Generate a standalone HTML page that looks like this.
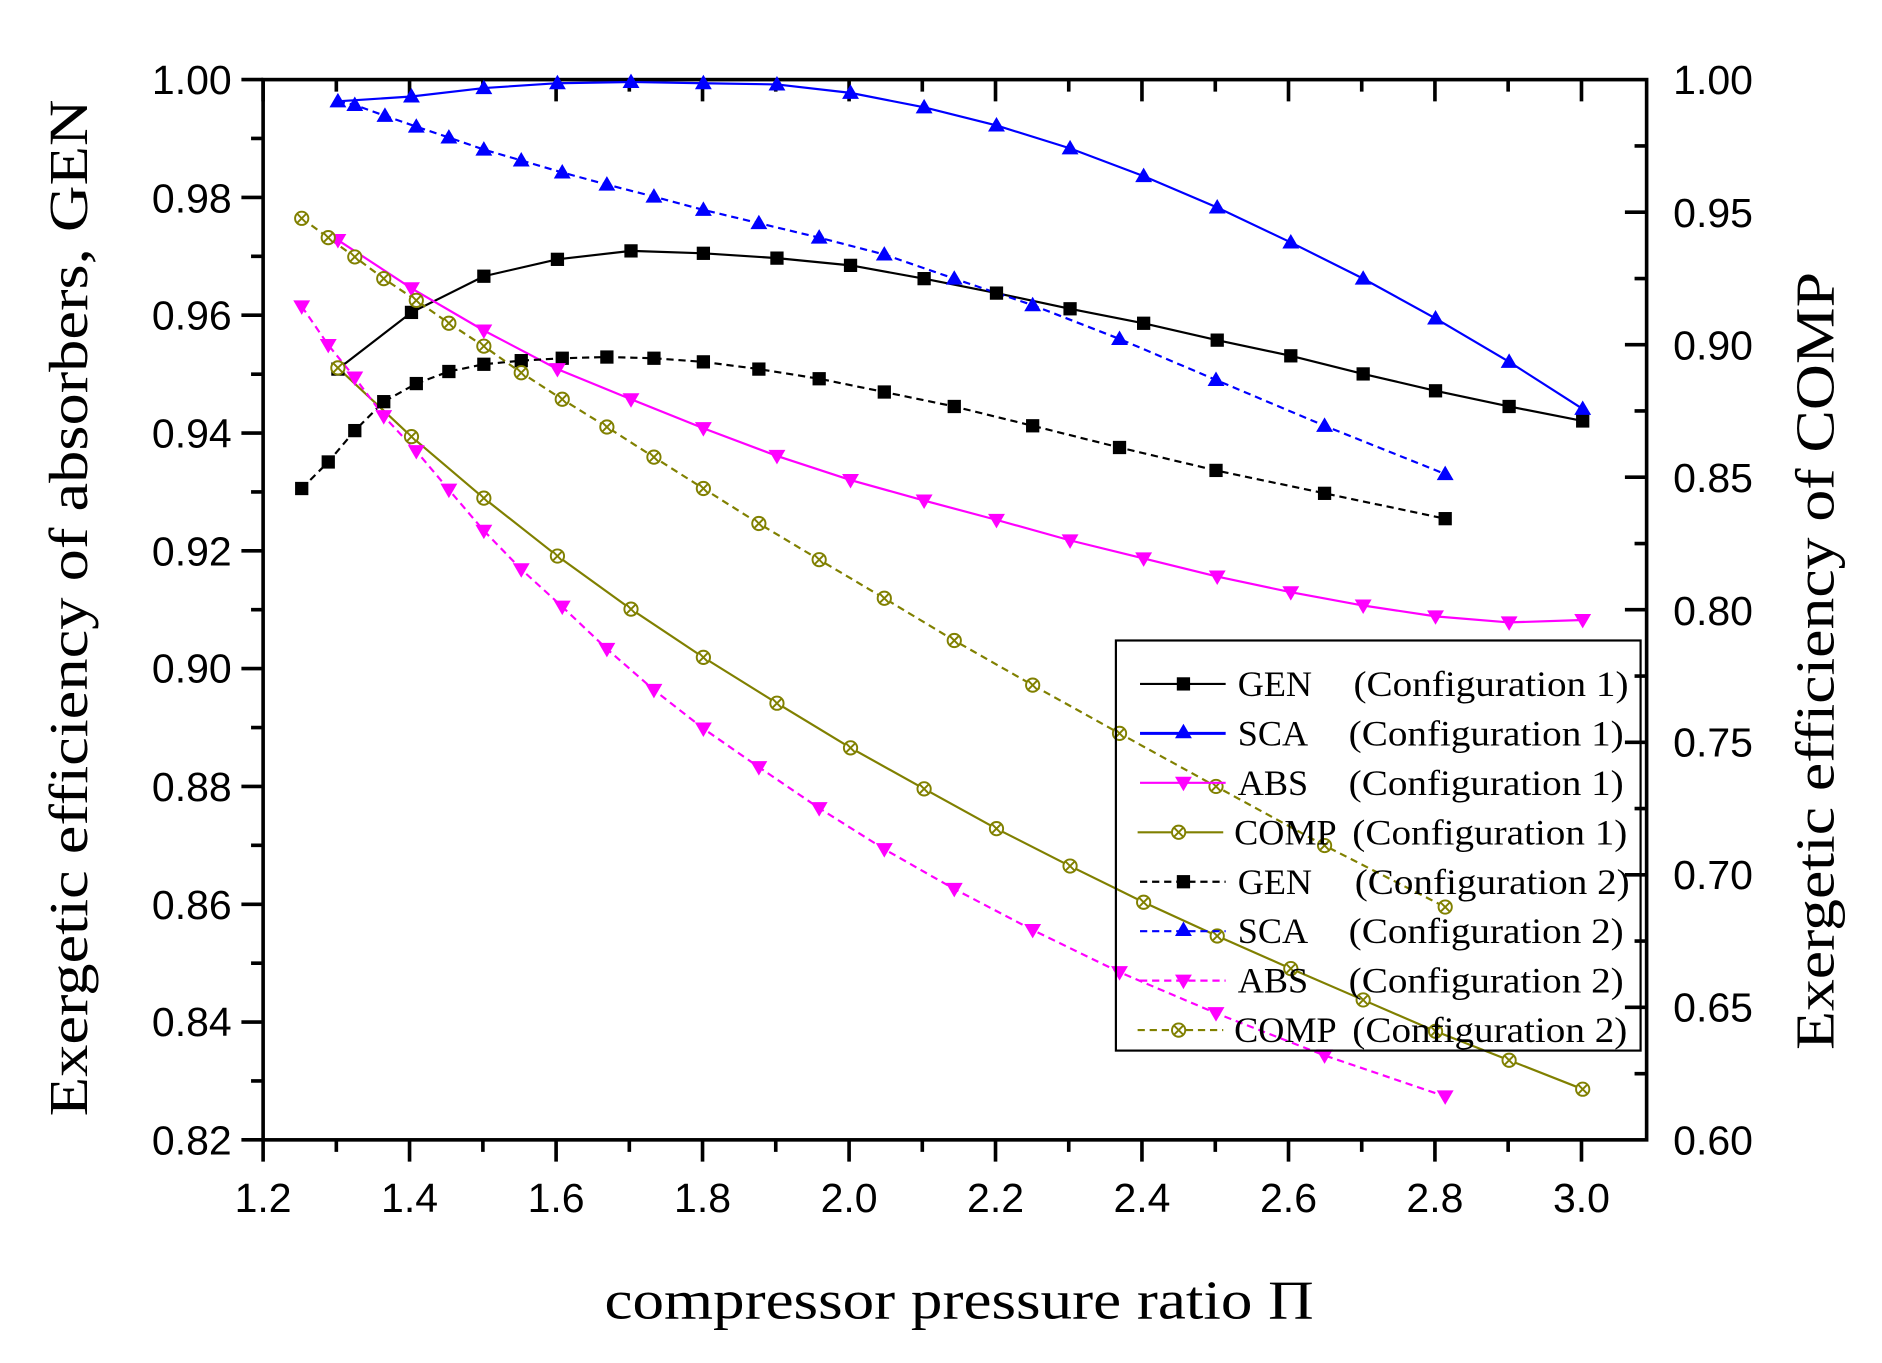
<!DOCTYPE html>
<html><head><meta charset="utf-8"><style>html,body{margin:0;padding:0;background:#fff}svg{display:block}</style></head>
<body>
<svg width="1882" height="1363" viewBox="0 0 1560 1130" xmlns="http://www.w3.org/2000/svg">
<defs>
<rect id="sq" x="-5.5" y="-5.5" width="11" height="11" fill="#000"/>
<path id="tu" d="M0,-7 L7,5 L-7,5 Z" fill="#0000ff"/>
<path id="td" d="M0,7 L7,-5 L-7,-5 Z" fill="#ff00ff"/>
<g id="cx" fill="none" stroke="#808000" stroke-width="1.6"><circle r="5.5" fill="#fff"/><path d="M-4,-4 L4,4 M-4,4 L4,-4"/></g>
</defs>
<g stroke="#000" stroke-width="3" fill="none">
<rect x="218" y="66" width="1147" height="879"/>
<!-- bottom ticks -->
<path d="M218,945v18 M339.4,945v18 M460.9,945v18 M582.3,945v18 M703.8,945v18 M825.2,945v18 M946.6,945v18 M1068.1,945v18 M1189.5,945v18 M1311,945v18
M278.7,945v10 M400.2,945v10 M521.6,945v10 M643,945v10 M764.5,945v10 M885.9,945v10 M1007.4,945v10 M1128.8,945v10 M1250.2,945v10
M218,66v18 M339.4,66v18 M460.9,66v18 M582.3,66v18 M703.8,66v18 M825.2,66v18 M946.6,66v18 M1068.1,66v18 M1189.5,66v18 M1311,66v18
M278.7,66v10 M400.2,66v10 M521.6,66v10 M643,66v10 M764.5,66v10 M885.9,66v10 M1007.4,66v10 M1128.8,66v10 M1250.2,66v10"/>
<!-- left ticks -->
<path d="M218,66h-18 M218,163.7h-18 M218,261.3h-18 M218,359h-18 M218,456.7h-18 M218,554.3h-18 M218,652h-18 M218,749.7h-18 M218,847.3h-18 M218,945h-18
M218,114.8h-10 M218,212.5h-10 M218,310.2h-10 M218,407.8h-10 M218,505.5h-10 M218,603.2h-10 M218,700.8h-10 M218,798.5h-10 M218,896.2h-10"/>
<!-- right ticks -->
<path d="M1365,175.9h-18 M1365,285.8h-18 M1365,395.6h-18 M1365,505.5h-18 M1365,615.4h-18 M1365,725.3h-18 M1365,835.1h-18
M1365,121h-10 M1365,230.9h-10 M1365,340.7h-10 M1365,450.6h-10 M1365,560.5h-10 M1365,670.3h-10 M1365,780.2h-10 M1365,890.1h-10"/>
</g>
<g font-family="Liberation Sans, sans-serif" font-size="34" fill="#000">
<g text-anchor="end">
<text x="192" y="78">1.00</text><text x="192" y="176">0.98</text><text x="192" y="273">0.96</text><text x="192" y="371">0.94</text><text x="192" y="469">0.92</text><text x="192" y="566">0.90</text><text x="192" y="664">0.88</text><text x="192" y="762">0.86</text><text x="192" y="859">0.84</text><text x="192" y="957">0.82</text>
</g>
<g text-anchor="middle">
<text x="218" y="1005">1.2</text><text x="339.4" y="1005">1.4</text><text x="460.9" y="1005">1.6</text><text x="582.3" y="1005">1.8</text><text x="703.8" y="1005">2.0</text><text x="825.2" y="1005">2.2</text><text x="946.6" y="1005">2.4</text><text x="1068.1" y="1005">2.6</text><text x="1189.5" y="1005">2.8</text><text x="1311" y="1005">3.0</text>
</g>
<g>
<text x="1387" y="78">1.00</text><text x="1387" y="188">0.95</text><text x="1387" y="298">0.90</text><text x="1387" y="408">0.85</text><text x="1387" y="518">0.80</text><text x="1387" y="627">0.75</text><text x="1387" y="737">0.70</text><text x="1387" y="847">0.65</text><text x="1387" y="957">0.60</text>
</g>
</g>
<g font-family="Liberation Serif, serif" fill="#000">
<text x="795" y="1093" font-size="46" text-anchor="middle" textLength="588" lengthAdjust="spacingAndGlyphs">compressor pressure ratio Π</text>
<text transform="translate(72,504) rotate(-90)" font-size="46" text-anchor="middle" textLength="843" lengthAdjust="spacingAndGlyphs">Exergetic efficiency of absorbers, GEN</text>
<text transform="translate(1520,548) rotate(-90)" font-size="46" text-anchor="middle" textLength="645" lengthAdjust="spacingAndGlyphs">Exergetic efficiency of COMP</text>
</g>

<!-- series -->
<g fill="none" stroke-width="1.8">
<polyline stroke="#000" points="280,306 341,259 401,229 462,215 523,208 583,210 644,214 705,220 766,231 826,243 887,256 948,268 1009,282 1070,295 1130,310 1190,324 1251,337 1312,349"/>
<polyline stroke="#0000ff" points="280,84 341,80 401,73 462,69 523,68 583,69 644,70 705,77 766,89 826,104 887,123 948,146 1009,172 1070,201 1130,231 1190,264 1251,300 1312,339"/>
<polyline stroke="#ff00ff" points="280,199 341,239 401,274 462,306 523,331 583,355 644,378 705,398 766,415 826,431 887,448 948,463 1009,478 1070,491 1130,502 1190,511 1251,516 1312,514"/>
<polyline stroke="#808000" points="280,305 341,362 401,413 462,461 523,505 583,545 644,583 705,620 766,654 826,687 887,718 948,748 1009,776 1070,803 1130,829 1190,855 1251,879 1312,903"/>
<g stroke-dasharray="6 4">
<polyline stroke="#000" points="250,405 272,383 294,357 318,333 345,318 372,308 401,302 432,299 466,297 503,296 542,297 583,300 629,306 679,314 733,325 791,337 856,353 928,371 1008,390 1098,409 1198,430"/>
<polyline stroke="#0000ff" points="280,84 294,87 319,96 345,105 372,114 401,124 432,133 466,143 503,153 542,163 583,174 629,185 679,197 733,211 791,231 856,253 928,281 1008,315 1098,353 1198,393"/>
<polyline stroke="#ff00ff" points="250,254 272,286 294,313 318,345 345,374 372,406 401,440 432,472 466,503 503,538 542,572 583,604 629,636 679,670 733,704 791,737 856,771 928,806 1008,840 1098,875 1198,909"/>
<polyline stroke="#808000" points="250,181 272,197 294,213 318,231 345,249 372,268 401,287 432,309 466,331 503,354 542,379 583,405 629,434 679,464 733,496 791,531 856,568 928,608 1008,652 1098,701 1198,752"/>
</g>
</g>
<!-- markers -->
<g>
<use href="#sq" x="280" y="306"/><use href="#sq" x="341" y="259"/><use href="#sq" x="401" y="229"/><use href="#sq" x="462" y="215"/><use href="#sq" x="523" y="208"/><use href="#sq" x="583" y="210"/><use href="#sq" x="644" y="214"/><use href="#sq" x="705" y="220"/><use href="#sq" x="766" y="231"/><use href="#sq" x="826" y="243"/><use href="#sq" x="887" y="256"/><use href="#sq" x="948" y="268"/><use href="#sq" x="1009" y="282"/><use href="#sq" x="1070" y="295"/><use href="#sq" x="1130" y="310"/><use href="#sq" x="1190" y="324"/><use href="#sq" x="1251" y="337"/><use href="#sq" x="1312" y="349"/>
<use href="#sq" x="250" y="405"/><use href="#sq" x="272" y="383"/><use href="#sq" x="294" y="357"/><use href="#sq" x="318" y="333"/><use href="#sq" x="345" y="318"/><use href="#sq" x="372" y="308"/><use href="#sq" x="401" y="302"/><use href="#sq" x="432" y="299"/><use href="#sq" x="466" y="297"/><use href="#sq" x="503" y="296"/><use href="#sq" x="542" y="297"/><use href="#sq" x="583" y="300"/><use href="#sq" x="629" y="306"/><use href="#sq" x="679" y="314"/><use href="#sq" x="733" y="325"/><use href="#sq" x="791" y="337"/><use href="#sq" x="856" y="353"/><use href="#sq" x="928" y="371"/><use href="#sq" x="1008" y="390"/><use href="#sq" x="1098" y="409"/><use href="#sq" x="1198" y="430"/>
<use href="#tu" x="280" y="84"/><use href="#tu" x="341" y="80"/><use href="#tu" x="401" y="73"/><use href="#tu" x="462" y="69"/><use href="#tu" x="523" y="68"/><use href="#tu" x="583" y="69"/><use href="#tu" x="644" y="70"/><use href="#tu" x="705" y="77"/><use href="#tu" x="766" y="89"/><use href="#tu" x="826" y="104"/><use href="#tu" x="887" y="123"/><use href="#tu" x="948" y="146"/><use href="#tu" x="1009" y="172"/><use href="#tu" x="1070" y="201"/><use href="#tu" x="1130" y="231"/><use href="#tu" x="1190" y="264"/><use href="#tu" x="1251" y="300"/><use href="#tu" x="1312" y="339"/>
<use href="#tu" x="294" y="87"/><use href="#tu" x="319" y="96"/><use href="#tu" x="345" y="105"/><use href="#tu" x="372" y="114"/><use href="#tu" x="401" y="124"/><use href="#tu" x="432" y="133"/><use href="#tu" x="466" y="143"/><use href="#tu" x="503" y="153"/><use href="#tu" x="542" y="163"/><use href="#tu" x="583" y="174"/><use href="#tu" x="629" y="185"/><use href="#tu" x="679" y="197"/><use href="#tu" x="733" y="211"/><use href="#tu" x="791" y="231"/><use href="#tu" x="856" y="253"/><use href="#tu" x="928" y="281"/><use href="#tu" x="1008" y="315"/><use href="#tu" x="1098" y="353"/><use href="#tu" x="1198" y="393"/>
<use href="#td" x="280" y="199"/><use href="#td" x="341" y="239"/><use href="#td" x="401" y="274"/><use href="#td" x="462" y="306"/><use href="#td" x="523" y="331"/><use href="#td" x="583" y="355"/><use href="#td" x="644" y="378"/><use href="#td" x="705" y="398"/><use href="#td" x="766" y="415"/><use href="#td" x="826" y="431"/><use href="#td" x="887" y="448"/><use href="#td" x="948" y="463"/><use href="#td" x="1009" y="478"/><use href="#td" x="1070" y="491"/><use href="#td" x="1130" y="502"/><use href="#td" x="1190" y="511"/><use href="#td" x="1251" y="516"/><use href="#td" x="1312" y="514"/>
<use href="#td" x="250" y="254"/><use href="#td" x="272" y="286"/><use href="#td" x="294" y="313"/><use href="#td" x="318" y="345"/><use href="#td" x="345" y="374"/><use href="#td" x="372" y="406"/><use href="#td" x="401" y="440"/><use href="#td" x="432" y="472"/><use href="#td" x="466" y="503"/><use href="#td" x="503" y="538"/><use href="#td" x="542" y="572"/><use href="#td" x="583" y="604"/><use href="#td" x="629" y="636"/><use href="#td" x="679" y="670"/><use href="#td" x="733" y="704"/><use href="#td" x="791" y="737"/><use href="#td" x="856" y="771"/><use href="#td" x="928" y="806"/><use href="#td" x="1008" y="840"/><use href="#td" x="1098" y="875"/><use href="#td" x="1198" y="909"/>
<use href="#cx" x="280" y="305"/><use href="#cx" x="341" y="362"/><use href="#cx" x="401" y="413"/><use href="#cx" x="462" y="461"/><use href="#cx" x="523" y="505"/><use href="#cx" x="583" y="545"/><use href="#cx" x="644" y="583"/><use href="#cx" x="705" y="620"/><use href="#cx" x="766" y="654"/><use href="#cx" x="826" y="687"/><use href="#cx" x="887" y="718"/><use href="#cx" x="948" y="748"/><use href="#cx" x="1009" y="776"/><use href="#cx" x="1070" y="803"/><use href="#cx" x="1130" y="829"/><use href="#cx" x="1190" y="855"/><use href="#cx" x="1251" y="879"/><use href="#cx" x="1312" y="903"/>
<use href="#cx" x="250" y="181"/><use href="#cx" x="272" y="197"/><use href="#cx" x="294" y="213"/><use href="#cx" x="318" y="231"/><use href="#cx" x="345" y="249"/><use href="#cx" x="372" y="268"/><use href="#cx" x="401" y="287"/><use href="#cx" x="432" y="309"/><use href="#cx" x="466" y="331"/><use href="#cx" x="503" y="354"/><use href="#cx" x="542" y="379"/><use href="#cx" x="583" y="405"/><use href="#cx" x="629" y="434"/><use href="#cx" x="679" y="464"/><use href="#cx" x="733" y="496"/><use href="#cx" x="791" y="531"/><use href="#cx" x="856" y="568"/><use href="#cx" x="928" y="608"/><use href="#cx" x="1008" y="652"/><use href="#cx" x="1098" y="701"/><use href="#cx" x="1198" y="752"/>
</g>

<!-- legend -->
<rect x="925" y="531" width="435" height="340" fill="none" stroke="#000" stroke-width="1.8"/>
<g fill="none" stroke-width="1.8">
<path d="M945,567h71" stroke="#000"/>
<path d="M945,608h71" stroke="#0000ff" stroke-width="2.4"/>
<path d="M945,649h71" stroke="#ff00ff"/>
<path d="M943,690h71" stroke="#808000"/>
<g stroke-dasharray="6 4">
<path d="M945,731h71" stroke="#000"/>
<path d="M945,772h71" stroke="#0000ff"/>
<path d="M945,813h71" stroke="#ff00ff"/>
<path d="M943,854h71" stroke="#808000"/>
</g>
</g>
<use href="#sq" x="981" y="567"/><use href="#tu" x="981" y="607"/><use href="#td" x="981" y="649"/><use href="#cx" x="977" y="690"/>
<use href="#sq" x="981" y="731"/><use href="#tu" x="981" y="771"/><use href="#td" x="981" y="813"/><use href="#cx" x="977" y="854"/>
<g font-family="Liberation Serif, serif" font-size="30" fill="#000">
<text x="1026" y="577">GEN</text><text x="1122" y="577" textLength="228" lengthAdjust="spacingAndGlyphs">(Configuration 1)</text>
<text x="1026" y="618">SCA</text><text x="1118" y="618" textLength="228" lengthAdjust="spacingAndGlyphs">(Configuration 1)</text>
<text x="1026" y="659">ABS</text><text x="1118" y="659" textLength="228" lengthAdjust="spacingAndGlyphs">(Configuration 1)</text>
<text x="1023" y="700">COMP</text><text x="1121" y="700" textLength="228" lengthAdjust="spacingAndGlyphs">(Configuration 1)</text>
<text x="1026" y="741">GEN</text><text x="1123" y="741" textLength="228" lengthAdjust="spacingAndGlyphs">(Configuration 2)</text>
<text x="1026" y="782">SCA</text><text x="1118" y="782" textLength="228" lengthAdjust="spacingAndGlyphs">(Configuration 2)</text>
<text x="1026" y="823">ABS</text><text x="1118" y="823" textLength="228" lengthAdjust="spacingAndGlyphs">(Configuration 2)</text>
<text x="1023" y="864">COMP</text><text x="1121" y="864" textLength="228" lengthAdjust="spacingAndGlyphs">(Configuration 2)</text>
</g>
</svg>
</body></html>
